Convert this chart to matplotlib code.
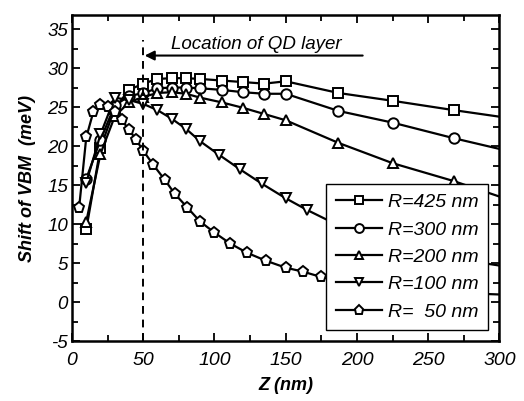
import numpy as np
import matplotlib
matplotlib.use("Agg")
import matplotlib.pyplot as plt
from matplotlib.ticker import MultipleLocator

# ================= DATA =================
z_425 = [10, 20, 30, 40, 50, 60, 70, 80, 90, 105, 120, 135, 150, 187, 225, 268, 310]
v_425 = [9.3, 19.8, 24.8, 27.2, 28.0, 28.6, 28.7, 28.7, 28.6, 28.4, 28.2, 28.0, 28.3, 26.8, 25.8, 24.6, 23.5]

z_300 = [10, 20, 30, 40, 50, 60, 70, 80, 90, 105, 120, 135, 150, 187, 225, 268, 310]
v_300 = [15.8, 20.8, 25.2, 26.4, 26.8, 27.4, 27.5, 27.5, 27.4, 27.2, 26.9, 26.7, 26.7, 24.5, 23.0, 21.0, 19.2]

z_200 = [10, 20, 30, 40, 50, 60, 70, 80, 90, 105, 120, 135, 150, 187, 225, 268, 310]
v_200 = [10.3, 19.0, 23.8, 25.6, 26.3, 26.8, 26.9, 26.7, 26.2, 25.6, 24.9, 24.1, 23.3, 20.4, 17.8, 15.5, 12.9]

z_100 = [10, 20, 30, 40, 50, 60, 70, 80, 90, 103, 118, 133, 150, 165, 185, 210, 240, 270, 310]
v_100 = [15.3, 21.5, 26.2, 25.9, 25.4, 24.6, 23.5, 22.2, 20.6, 18.9, 17.0, 15.2, 13.3, 11.8, 10.0, 8.2, 6.6, 5.5, 4.4]

z_50 = [5, 10, 15, 20, 25, 30, 35, 40, 45, 50, 57, 65, 72, 81, 90, 100, 111, 123, 136, 150, 162, 175,
        195, 220, 250, 280, 310]
v_50 = [12.1, 21.1, 24.4, 25.2, 25.0, 24.3, 23.3, 22.1, 20.8, 19.4, 17.6, 15.7, 13.9, 12.1, 10.3, 8.9,
        7.5, 6.3, 5.3, 4.4, 3.9, 3.2, 2.5, 1.9, 1.4, 1.1, 0.9]

labels = ["R=425 nm", "R=300 nm", "R=200 nm", "R=100 nm", "R=  50 nm"]
markers = ["s", "o", "^", "v", "p"]

# ================= FIGURE =================
plt.rcParams["font.family"] = ["Liberation Sans", "DejaVu Sans"]
plt.rcParams["axes.unicode_minus"] = False

fig = plt.figure(figsize=(5.24, 4.01), dpi=100)
ax = fig.add_axes([0.1374, 0.1496, 0.8158, 0.813])

series = [(z_425, v_425), (z_300, v_300), (z_200, v_200), (z_100, v_100), (z_50, v_50)]
for (z, v), lab, m in zip(series, labels, markers):
    ax.plot(z, v, color="black", lw=1.6, marker=m, ms=7.5 if m != "p" else 8,
            mfc="white", mec="black", mew=1.4, label=lab, clip_on=True)

# QD layer position
ax.vlines(50, -5, 33.6, colors="black", linestyles=(0, (4, 3)), lw=1.4)
ax.annotate("", xy=(51, 31.6), xytext=(204, 31.6),
            arrowprops=dict(arrowstyle="-|>", color="black", lw=1.5,
                            mutation_scale=14, shrinkA=0, shrinkB=0))
ax.text(129, 33.0, "Location of QD layer", style="italic", fontsize=13.5,
        ha="center", va="center")

ax.set_xlim(0, 300)
ax.set_ylim(-5, 36.8)
ax.xaxis.set_major_locator(MultipleLocator(50))
ax.xaxis.set_minor_locator(MultipleLocator(25))
ax.yaxis.set_major_locator(MultipleLocator(5))
ax.yaxis.set_minor_locator(MultipleLocator(2.5))
ax.tick_params(which="both", direction="in", top=True, right=True, width=1.3)
ax.tick_params(which="major", length=6)
ax.tick_params(which="minor", length=4)
ax.tick_params(axis="x", labelsize=14, pad=8)
ax.tick_params(axis="y", labelsize=13.5, pad=3)
for lab in ax.get_xticklabels() + ax.get_yticklabels():
    lab.set_style("italic")
for sp in ax.spines.values():
    sp.set_linewidth(1.8)

ax.set_xlabel("Z (nm)", fontsize=13, fontweight="bold", style="italic", labelpad=6)
ax.set_ylabel("Shift of VBM  (meV)", fontsize=13, fontweight="bold", style="italic", labelpad=8)

leg = ax.legend(loc="lower right", bbox_to_anchor=(0.974, 0.033),
                prop={"style": "italic", "size": 14}, frameon=True, fancybox=False,
                handlelength=2.4, handletextpad=0.3, labelspacing=0.5, markerscale=0.85,
                borderpad=0.5, borderaxespad=0)
leg.get_frame().set_edgecolor("black")
leg.get_frame().set_linewidth(1.0)
leg.get_frame().set_alpha(1)

fig.savefig("out.png", dpi=100)
